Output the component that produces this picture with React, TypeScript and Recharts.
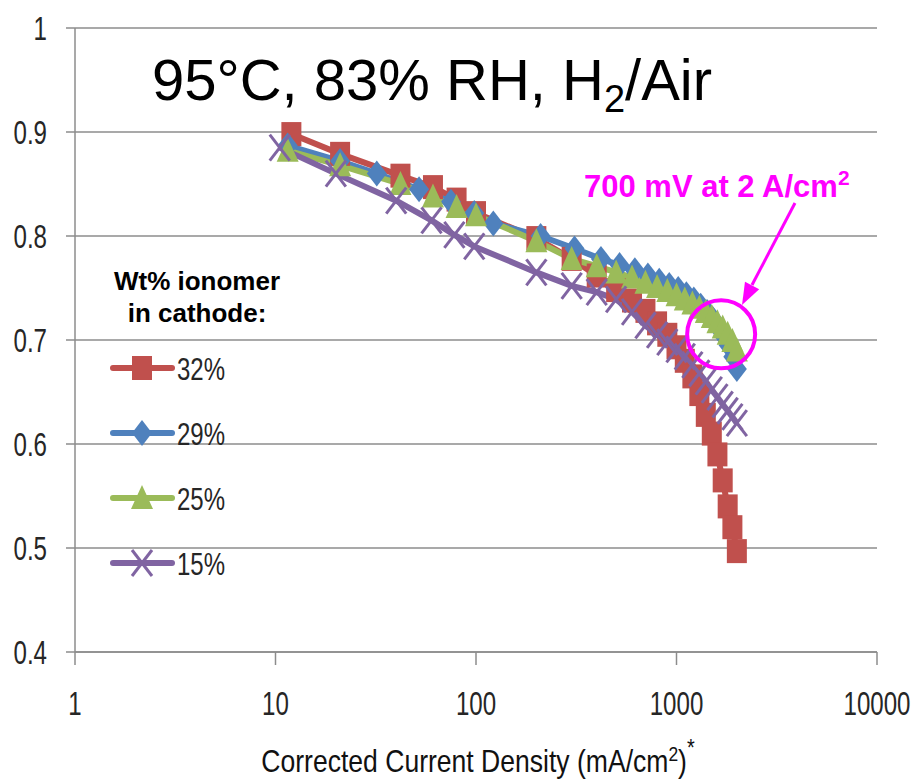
import React from 'react';
import { LineChart, Line, XAxis, YAxis, CartesianGrid, ReferenceDot } from 'recharts';

// current density (mA/cm2) and cell voltage (V)
const ion32 = [
  { i: 12, v: 0.898 }, { i: 21, v: 0.879 }, { i: 42, v: 0.858 }, { i: 61, v: 0.847 },
  { i: 80, v: 0.835 }, { i: 100, v: 0.822 }, { i: 200, v: 0.798 }, { i: 300, v: 0.778 },
  { i: 400, v: 0.762 }, { i: 500, v: 0.748 }, { i: 600, v: 0.738 }, { i: 700, v: 0.728 },
  { i: 800, v: 0.716 }, { i: 900, v: 0.705 }, { i: 1000, v: 0.693 }, { i: 1100, v: 0.68 },
  { i: 1200, v: 0.665 }, { i: 1300, v: 0.648 }, { i: 1400, v: 0.628 }, { i: 1500, v: 0.61 },
  { i: 1600, v: 0.59 }, { i: 1700, v: 0.565 }, { i: 1800, v: 0.54 }, { i: 1900, v: 0.52 },
  { i: 2000, v: 0.497 },
];
const ion29 = [
  { i: 11.5, v: 0.887 }, { i: 21, v: 0.872 }, { i: 32, v: 0.86 }, { i: 52, v: 0.845 },
  { i: 75, v: 0.833 }, { i: 98, v: 0.822 }, { i: 122, v: 0.812 }, { i: 210, v: 0.8 },
  { i: 310, v: 0.788 }, { i: 420, v: 0.778 }, { i: 520, v: 0.772 }, { i: 620, v: 0.767 },
  { i: 720, v: 0.762 }, { i: 820, v: 0.757 }, { i: 920, v: 0.753 }, { i: 1020, v: 0.749 },
  { i: 1120, v: 0.744 }, { i: 1220, v: 0.739 }, { i: 1320, v: 0.733 }, { i: 1420, v: 0.727 },
  { i: 1520, v: 0.72 }, { i: 1620, v: 0.712 }, { i: 1720, v: 0.704 }, { i: 1820, v: 0.695 },
  { i: 1920, v: 0.684 }, { i: 2000, v: 0.672 },
];
const ion25 = [
  { i: 11.5, v: 0.882 }, { i: 21, v: 0.868 }, { i: 42, v: 0.85 }, { i: 61, v: 0.838 },
  { i: 80, v: 0.828 }, { i: 100, v: 0.82 }, { i: 200, v: 0.795 }, { i: 300, v: 0.778 },
  { i: 400, v: 0.771 }, { i: 500, v: 0.765 }, { i: 600, v: 0.76 }, { i: 700, v: 0.755 },
  { i: 800, v: 0.751 }, { i: 900, v: 0.747 }, { i: 1000, v: 0.743 }, { i: 1100, v: 0.739 },
  { i: 1200, v: 0.735 }, { i: 1300, v: 0.731 }, { i: 1400, v: 0.727 }, { i: 1500, v: 0.722 },
  { i: 1600, v: 0.717 }, { i: 1700, v: 0.712 }, { i: 1800, v: 0.706 }, { i: 1900, v: 0.699 },
  { i: 2000, v: 0.69 },
];
const ion15 = [
  { i: 10.5, v: 0.885 }, { i: 20, v: 0.86 }, { i: 40, v: 0.834 }, { i: 60, v: 0.815 },
  { i: 78, v: 0.801 }, { i: 98, v: 0.79 }, { i: 200, v: 0.765 }, { i: 300, v: 0.752 },
  { i: 400, v: 0.746 }, { i: 500, v: 0.739 }, { i: 600, v: 0.727 }, { i: 700, v: 0.714 },
  { i: 800, v: 0.705 }, { i: 900, v: 0.698 }, { i: 1000, v: 0.691 }, { i: 1100, v: 0.684 },
  { i: 1200, v: 0.676 }, { i: 1300, v: 0.668 }, { i: 1400, v: 0.66 }, { i: 1500, v: 0.652 },
  { i: 1600, v: 0.645 }, { i: 1700, v: 0.638 }, { i: 1800, v: 0.632 }, { i: 1900, v: 0.626 },
  { i: 2000, v: 0.62 },
];

const xTicks = [1, 10, 100, 1000, 10000];
const yTicks = [0.4, 0.5, 0.6, 0.7, 0.8, 0.9, 1];

const series = [
  { name: '32%', data: ion32, color: '#C0504D', shape: 'square' },
  { name: '29%', data: ion29, color: '#4F81BD', shape: 'diamond' },
  { name: '25%', data: ion25, color: '#9BBB59', shape: 'triangle' },
  { name: '15%', data: ion15, color: '#8064A2', shape: 'cross' },
];

const ARIAL = '"Liberation Sans", Arial, sans-serif';
const MAGENTA = '#FF00FF';
const TICK_COLOR = '#262626';

function Marker({ shape, color, cx, cy }: any) {
  if (cx == null || cy == null) return null;
  if (shape === 'square') {
    return <rect x={cx - 10} y={cy - 12} width={20} height={24} fill={color} />;
  }
  if (shape === 'diamond') {
    return <polygon points={`${cx},${cy - 13} ${cx + 10},${cy} ${cx},${cy + 13} ${cx - 10},${cy}`} fill={color} />;
  }
  if (shape === 'triangle') {
    return <polygon points={`${cx},${cy - 13} ${cx + 11},${cy + 11} ${cx - 11},${cy + 11}`} fill={color} />;
  }
  return (
    <g stroke={color} strokeWidth={3}>
      <line x1={cx - 10} y1={cy - 13} x2={cx + 10} y2={cy + 13} />
      <line x1={cx - 10} y1={cy + 13} x2={cx + 10} y2={cy - 13} />
    </g>
  );
}

// condensed, Calibri-like tick text
function XTick({ x, y, payload }: any) {
  return (
    <g transform={`translate(${x},${y})`}>
      <text transform="scale(0.73,1)" textAnchor="middle" dy="0.71em" fontFamily={ARIAL} fontSize={33} fill={TICK_COLOR}>
        {payload.value}
      </text>
    </g>
  );
}

function YTick({ x, y, payload }: any) {
  const v = payload.value;
  return (
    <g transform={`translate(${x},${y})`}>
      <text transform="scale(0.73,1)" textAnchor="end" dy="0.355em" fontFamily={ARIAL} fontSize={33} fill={TICK_COLOR}>
        {v === 1 ? '1' : v.toFixed(1)}
      </text>
    </g>
  );
}

export default function App() {
  const legendY = [368, 433, 498, 563];

  return (
    <div style={{ position: 'absolute', left: 0, top: 0, width: 916, height: 781, background: '#fff', overflow: 'hidden' }}>
      <LineChart width={916} height={781} margin={{ top: 28, right: 39, bottom: 0, left: 0 }}>
        <CartesianGrid vertical={false} stroke="#8c8c8c" strokeWidth={1.5} />
        <XAxis
          dataKey="i"
          type="number"
          scale="log"
          domain={[1, 10000]}
          ticks={xTicks}
          allowDataOverflow
          height={129}
          stroke="#8c8c8c"
          strokeWidth={1.5}
          tickSize={13}
          tickMargin={27}
          tick={<XTick />}
        />
        <YAxis
          type="number"
          domain={[0.4, 1]}
          ticks={yTicks}
          width={75}
          stroke="#8c8c8c"
          strokeWidth={1.5}
          tickSize={9}
          tickMargin={19}
          tick={<YTick />}
        />
        {series.map((s) => (
          <Line
            key={s.name}
            data={s.data}
            dataKey="v"
            name={s.name}
            stroke={s.color}
            strokeWidth={6}
            isAnimationActive={false}
            dot={(p: any) => <Marker key={`${s.name}-${p.index}`} shape={s.shape} color={s.color} cx={p.cx} cy={p.cy} />}
            activeDot={false}
          />
        ))}
        <ReferenceDot x={1670} y={0.7055} r={34} fill="none" stroke={MAGENTA} strokeWidth={4} />
      </LineChart>

      <svg width={916} height={781} style={{ position: 'absolute', left: 0, top: 0, pointerEvents: 'none' }}>
        <text x={152} y={100} fontFamily={ARIAL} fontSize={58} fill="#000">
          95°C, 83% RH, H<tspan fontSize={38} dy={12}>2</tspan><tspan dy={-12}>/Air</tspan>
        </text>

        <text x={584} y={197} fontFamily={ARIAL} fontSize={31} fontWeight="bold" fill={MAGENTA}>
          700 mV at 2 A/cm<tspan fontSize={21} dy={-12}>2</tspan>
        </text>
        <line x1={795} y1={203} x2={752} y2={285} stroke={MAGENTA} strokeWidth={3} />
        <polygon points="742,305 759.2,289.2 745,281.8" fill={MAGENTA} />

        <text x={197} y={290} textAnchor="middle" fontFamily={ARIAL} fontSize={26} fontWeight="bold" fill="#000">Wt% ionomer</text>
        <text x={197} y={322} textAnchor="middle" fontFamily={ARIAL} fontSize={26} fontWeight="bold" fill="#000">in cathode:</text>
        {series.map((s, k) => (
          <g key={s.name}>
            <line x1={113} y1={legendY[k]} x2={172} y2={legendY[k]} stroke={s.color} strokeWidth={6} strokeLinecap="round" />
            <Marker shape={s.shape} color={s.color} cx={142} cy={legendY[k]} />
            <g transform={`translate(177,${legendY[k]})`}>
              <text transform="scale(0.75,1)" dy="0.36em" fontFamily={ARIAL} fontSize={32} fill={TICK_COLOR}>{s.name}</text>
            </g>
          </g>
        ))}

        <g transform="translate(478,772)">
          <text transform="scale(0.83,1)" textAnchor="middle" fontFamily={ARIAL} fontSize={32} fill="#111">
            Corrected Current Density (mA/cm<tspan fontSize={21} dy={-11}>2</tspan><tspan dy={11}>)</tspan><tspan fontSize={24} dy={-16}>*</tspan>
          </text>
        </g>
      </svg>
    </div>
  );
}
